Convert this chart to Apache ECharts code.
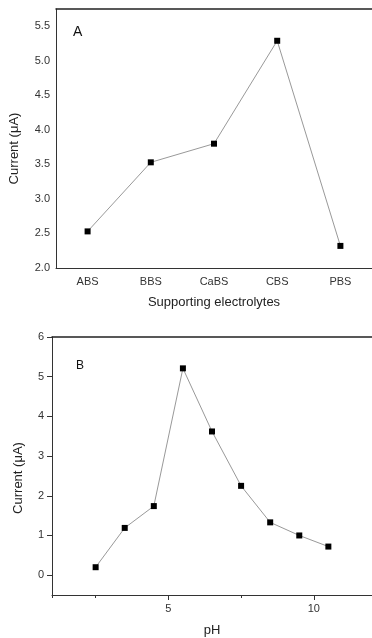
<!DOCTYPE html>
<html>
<head>
<meta charset="utf-8">
<script src="https://cdn.jsdelivr.net/npm/echarts@6/dist/echarts.min.js"></script>
<style>
  html, body { margin: 0; padding: 0; background: #fff; }
  #main { width: 372px; height: 638px; }
</style>
</head>
<body>
<div id="main"></div>
<script>
// panel A data
var electrolytes = ['ABS', 'BBS', 'CaBS', 'CBS', 'PBS'];
var currentA = [2.53, 3.53, 3.80, 5.29, 2.32];
// panel B data
var pHValues = [2.5, 3.5, 4.5, 5.5, 6.5, 7.5, 8.5, 9.5, 10.5];
var currentB = [0.20, 1.19, 1.74, 5.21, 3.62, 2.25, 1.33, 1.00, 0.72];

var font = 'Liberation Sans, Arial, sans-serif';
var axisColor = '#333';
var labelStyle = { fontFamily: font, fontSize: 11, color: '#333' };
var nameStyle = { fontFamily: font, fontSize: 13, color: '#222' };

var myChart = echarts.init(document.getElementById('main'));

var pairsB = pHValues.map(function (p, i) { return [p, currentB[i]]; });

option = {
    animation: false,
    backgroundColor: '#fff',
    title: [{
        text: 'A', left: 68, top: 20,
        textStyle: { fontFamily: font, fontSize: 14, fontWeight: 'normal', color: '#111' }
    }, {
        text: 'B', left: 71, top: 355,
        textStyle: { fontFamily: font, fontSize: 12, fontWeight: 'normal', color: '#111' }
    }],
    grid: [
        { left: 52, right: 0, top: 9, height: 259 },
        { left: 52, right: 0, top: 337, height: 260 }
    ],
    xAxis: [{
        // A: categories
        gridIndex: 0,
        type: 'category',
        data: electrolytes,
        position: 'bottom',
        name: 'Supporting electrolytes',
        nameLocation: 'middle',
        nameGap: 28,
        nameTextStyle: nameStyle,
        axisLine: { onZero: false, lineStyle: { color: axisColor, width: 1 } },
        axisTick: { alignWithLabel: true, length: 5, lineStyle: { color: axisColor } },
        axisLabel: Object.assign({ margin: 8 }, labelStyle),
        splitLine: { show: false }
    }, {
        // A: minor ticks between categories
        gridIndex: 0,
        type: 'category',
        data: electrolytes,
        position: 'bottom',
        axisLine: { show: false, onZero: false },
        axisTick: { alignWithLabel: false, length: 2, lineStyle: { color: axisColor } },
        axisLabel: { show: false },
        splitLine: { show: false }
    }, {
        // A: top frame
        gridIndex: 0,
        type: 'category',
        data: electrolytes,
        position: 'top',
        axisLine: { onZero: false, lineStyle: { color: '#222', width: 1.5 } },
        axisTick: { show: false },
        axisLabel: { show: false }
    }, {
        // B: pH
        gridIndex: 1,
        type: 'value',
        min: 1,
        max: 12,
        minInterval: 5,
        maxInterval: 5,
        position: 'bottom',
        name: 'pH',
        nameLocation: 'middle',
        nameGap: 29,
        nameTextStyle: nameStyle,
        axisLine: { onZero: false, lineStyle: { color: axisColor, width: 1 } },
        axisTick: { length: 5, lineStyle: { color: axisColor } },
        axisLabel: Object.assign({ margin: 8, showMinLabel: false, showMaxLabel: false }, labelStyle),
        splitLine: { show: false }
    }, {
        // B: minor ticks
        gridIndex: 1,
        type: 'value',
        min: 1,
        max: 12,
        minInterval: 2.5,
        maxInterval: 2.5,
        position: 'bottom',
        axisLine: { show: false, onZero: false },
        axisTick: { length: 3, lineStyle: { color: axisColor } },
        axisLabel: { show: false },
        splitLine: { show: false }
    }, {
        // B: top frame
        gridIndex: 1,
        type: 'value',
        min: 1,
        max: 12,
        position: 'top',
        axisLine: { onZero: false, lineStyle: { color: '#222', width: 1.5 } },
        axisTick: { show: false },
        axisLabel: { show: false },
        splitLine: { show: false }
    }],
    yAxis: [{
        gridIndex: 0,
        type: 'value',
        min: 2,
        max: 5.75,
        interval: 0.5,
        name: 'Current (μA)',
        nameLocation: 'middle',
        nameGap: 35,
        nameTextStyle: Object.assign({ padding: [0, 20, 0, 0] }, nameStyle),
        axisLine: { show: true, onZero: false, lineStyle: { color: axisColor, width: 1 } },
        axisTick: { show: false },
        axisLabel: Object.assign({
            margin: 6,
            showMaxLabel: false,
            formatter: function (v) { return v.toFixed(1); }
        }, labelStyle),
        splitLine: { show: false }
    }, {
        gridIndex: 1,
        type: 'value',
        min: -0.5,
        max: 6,
        minInterval: 1,
        maxInterval: 1,
        name: 'Current (μA)',
        nameLocation: 'middle',
        nameGap: 27,
        nameTextStyle: Object.assign({ padding: [0, 24, 0, 0] }, nameStyle),
        axisLine: { show: true, onZero: false, lineStyle: { color: axisColor, width: 1 } },
        axisTick: { length: 5, lineStyle: { color: axisColor } },
        axisLabel: Object.assign({ margin: 8, showMinLabel: false }, labelStyle),
        splitLine: { show: false }
    }, {
        // B: minor ticks
        gridIndex: 1,
        type: 'value',
        min: -0.5,
        max: 6,
        interval: 0.5,
        axisLine: { show: false, onZero: false },
        axisTick: { show: true, length: 2, lineStyle: { color: axisColor } },
        axisLabel: { show: false },
        splitLine: { show: false }
    }],
    series: [{
        name: 'A',
        type: 'line',
        xAxisIndex: 0,
        yAxisIndex: 0,
        symbol: 'rect',
        symbolSize: 6,
        itemStyle: { color: '#000' },
        lineStyle: { color: '#999', width: 1 },
        data: currentA
    }, {
        name: 'B',
        type: 'line',
        xAxisIndex: 3,
        yAxisIndex: 1,
        symbol: 'rect',
        symbolSize: 6,
        itemStyle: { color: '#000' },
        lineStyle: { color: '#999', width: 1 },
        data: pairsB
    }]
};
myChart.setOption(option);
</script>
</body>
</html>
